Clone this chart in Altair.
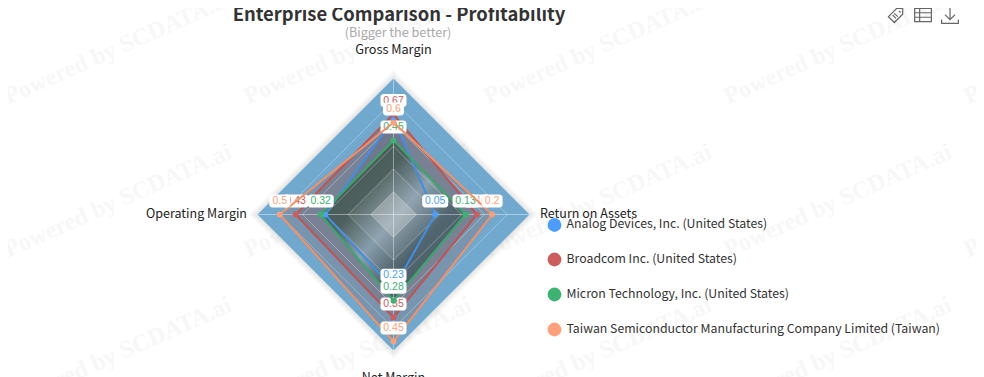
import math
import altair as alt
import pandas as pd

# ---- data ----
INDICATORS = ["Gross Margin", "Return on Assets", "Net Margin", "Operating Margin"]
AXIS_MIN = [-0.167, -0.06, -0.08, 0.0]
AXIS_MAX = [0.97, 0.30, 0.49, 0.60]
COMPANIES = [
    "Analog Devices, Inc. (United States)",
    "Broadcom Inc. (United States)",
    "Micron Technology, Inc. (United States)",
    "Taiwan Semiconductor Manufacturing Company Limited (Taiwan)",
]
ANALOG = [0.63, 0.05, 0.23, 0.30]
BROADCOM = [0.67, 0.16, 0.35, 0.43]
MICRON = [0.45, 0.13, 0.28, 0.32]
TSMC = [0.60, 0.20, 0.45, 0.50]
SERIES = [ANALOG, BROADCOM, MICRON, TSMC]
LABELLED = [[False, True, True, False], [True] * 4, [True] * 4, [True] * 4]
COLORS = ["#4B9EFF", "#CD5C5C", "#3CB371", "#FFA07A"]
LINE_COLORS = ["#3F8FE8", "#C4524F", "#37A868", "#F88F63"]
RINGS = [1 / 6, 2 / 6, 3 / 6, 4 / 6, 5 / 6, 1.0]
WM_X = [118, 358, 598, 838, 1078]
WM_Y = [48, 201, 354]

# ---- layout ----
W, H = 968, 369
CX, CY, R = 393.5 - 8, 214.5 - 8, 136.5
xs = alt.Scale(domain=[-CX / R, (W - CX) / R], range=[0, W])
ys = alt.Scale(domain=[-(H - CY) / R, CY / R], range=[H, 0])
X = alt.X("x:Q", scale=xs, axis=None)
Y = alt.Y("y:Q", scale=ys, axis=None)
Y2 = alt.Y2("y2:Q")
DIRS = [(0, 1), (1, 0), (0, -1), (-1, 0)]
FONT = "Noto Sans CJK SC"


def frac(i, v):
    return (v - AXIS_MIN[i]) / (AXIS_MAX[i] - AXIS_MIN[i])


def poly_area(r):
    # r = fractions in order top, right, bottom, left
    return pd.DataFrame({
        "x": [-r[3], 0, r[1]],
        "y": [0, r[0], 0],
        "y2": [0, -r[2], 0],
    })


def poly_line(r):
    pts = [(DIRS[i][0] * r[i], DIRS[i][1] * r[i]) for i in range(4)]
    pts.append(pts[0])
    return pd.DataFrame({"x": [p[0] for p in pts], "y": [p[1] for p in pts], "o": range(5)})


def area(r, fill, opacity=1.0):
    return alt.Chart(poly_area(r)).mark_area(fill=fill, opacity=opacity, interpolate="linear").encode(x=X, y=Y, y2=Y2)


layers = []

# watermark
wm = pd.DataFrame([{"px": x, "py": y, "t": "Powered by SCDATA.ai"} for y in WM_Y for x in WM_X])
wm["px"] -= 8
wm["py"] -= 8
layers.append(alt.Chart(wm).mark_text(font="Liberation Serif", fontWeight="bold", fontSize=24, angle=336, color="#f7f7f7").encode(
    x=alt.X("px:Q", scale=alt.Scale(domain=[0, W], range=[0, W]), axis=None),
    y=alt.Y("py:Q", scale=alt.Scale(domain=[0, H], range=[0, H]), axis=None),
    text="t:N"))

# halo
for k in [1.06, 1.045, 1.03, 1.015]:
    layers.append(area([k] * 4, "#000000", 0.025))
# radar background
layers.append(area([1] * 4, "#70A8CE"))

# series fills
for s, c in zip(SERIES, COLORS):
    r = [frac(i, s[i]) for i in range(4)]
    layers.append(area(r, "#2f3a40", 0.17))
    layers.append(area(r, c, 0.12))

# shaded core
grad = alt.Gradient(
    gradient="linear", x1=0.12, y1=0.12, x2=0.88, y2=0.88,
    stops=[
        alt.GradientStop(color="rgba(55,75,60,0.62)", offset=0.1),
        alt.GradientStop(color="rgba(60,80,70,0.55)", offset=0.28),
        alt.GradientStop(color="rgba(165,190,210,0.55)", offset=0.5),
        alt.GradientStop(color="rgba(55,80,90,0.5)", offset=0.72),
        alt.GradientStop(color="rgba(55,75,85,0.6)", offset=0.92),
    ])
r_m = [frac(i, MICRON[i]) for i in range(4)]
layers.append(alt.Chart(poly_area(r_m)).mark_area(fill=grad).encode(x=X, y=Y, y2=Y2))
layers.append(area([2 / 6] * 4, "#ffffff", 0.08))
layers.append(area([1 / 6] * 4, "#E5E5E0", 0.3))

# grid
for k in RINGS:
    layers.append(alt.Chart(poly_line([k] * 4)).mark_line(color="#ffffff", strokeWidth=1, opacity=0.3 if k < 0.9 else 0.6).encode(x=X, y=Y, order="o:Q"))
spokes = pd.DataFrame({"x": [0, 0, -1, 1], "y": [-1, 1, 0, 0], "g": ["v", "v", "h", "h"]})
layers.append(alt.Chart(spokes).mark_line(color="#ffffff", strokeWidth=1, opacity=0.4).encode(x=X, y=Y, detail="g:N"))

# series lines, points and labels
for idx, (s, c, lc) in enumerate(zip(SERIES, COLORS, LINE_COLORS)):
    r = [frac(i, s[i]) for i in range(4)]
    layers.append(alt.Chart(poly_line(r)).mark_line(color=lc, strokeWidth=2.0).encode(x=X, y=Y, order="o:Q"))
    pts = pd.DataFrame({
        "x": [DIRS[i][0] * r[i] for i in range(4)],
        "y": [DIRS[i][1] * r[i] for i in range(4)],
        "t": [f"{s[i]:g}" for i in range(4)],
        "show": LABELLED[idx],
        "short": [len(f"{s[i]:g}") <= 3 for i in range(4)],
    })
    layers.append(alt.Chart(pts).mark_circle(color=c, size=34, opacity=1).encode(x=X, y=Y))
    shown = pts[pts["show"]]
    for short, wd in [(True, 21), (False, 26)]:
        sub = shown[shown["short"] == short]
        if len(sub):
            layers.append(alt.Chart(sub).mark_rect(width=wd, height=13, cornerRadius=3, color="#ffffff", yOffset=-13.5, opacity=1).encode(x=X, y=Y))
    layers.append(alt.Chart(shown).mark_text(font="Liberation Sans", fontSize=10.5, color=c, yOffset=-13.5, baseline="middle").encode(x=X, y=Y, text="t:N"))


def txt(s, x, y, size=12.5, color="#333333", align="center", weight="normal", font=FONT):
    return alt.Chart(pd.DataFrame({"t": [s]})).mark_text(
        font=font, fontSize=size, color=color, align=align, fontWeight=weight, baseline="middle"
    ).encode(x=alt.value(x - 8), y=alt.value(y - 8), text="t:N")


layers.append(txt("Enterprise Comparison - Profitability", 399, 14.5, 18.4, "#333333", weight="bold"))
layers.append(txt("(Bigger the better)", 398, 32.5, 12.6, "#aaaaaa"))
layers.append(txt(INDICATORS[0], 393.5, 50, 12.7, "#222222"))
layers.append(txt(INDICATORS[1], 540, 214, 12.5, "#222222", "left"))
layers.append(txt(INDICATORS[2], 393.5, 378, 12.5, "#222222"))
layers.append(txt(INDICATORS[3], 247, 214, 12.5, "#222222", "right"))

# legend
LEG_Y = [225, 259.5, 294.5, 329.5]
for name, c, ly in zip(COMPANIES, COLORS, LEG_Y):
    layers.append(alt.Chart(pd.DataFrame({"a": [1]})).mark_circle(color=c, size=190, opacity=1).encode(
        x=alt.value(554.5 - 8), y=alt.value(ly - 8)))
    layers.append(txt(name, 566.5, ly - 1, 12.3, "#333333", "left"))

# toolbox icons
TAG = "M-0.9,0.2 L0.1,-0.8 L0.8,-0.8 L0.8,-0.1 L-0.2,0.9 Z M0.35,-0.5 L0.55,-0.3 M-0.4,0 L0,0.4 M-0.2,-0.2 L0.2,0.2"
LIST = "M-1,-0.8 L1,-0.8 L1,0.8 L-1,0.8 Z M-1,-0.27 L1,-0.27 M-1,0.27 L1,0.27 M-0.4,-0.8 L-0.4,0.8"
DOWN = "M-1,0.55 L-1,1 L1,1 L1,0.55 M0,-1 L0,0.55 M-0.6,-0.05 L0,0.55 L0.6,-0.05"
for shape, ix in [(TAG, 896), (LIST, 923), (DOWN, 950)]:
    layers.append(alt.Chart(pd.DataFrame({"a": [1]})).mark_point(
        shape=shape, size=280, filled=False, color="#666666", strokeWidth=1.2, opacity=1
    ).encode(x=alt.value(ix - 8), y=alt.value(15 - 8)))

chart = alt.layer(*layers).resolve_scale(x="independent", y="independent").properties(
    width=W, height=H, padding=0, autosize="none",
).configure_view(stroke=None)
chart.save("out.html", embed_options={"renderer": "svg", "actions": False})
